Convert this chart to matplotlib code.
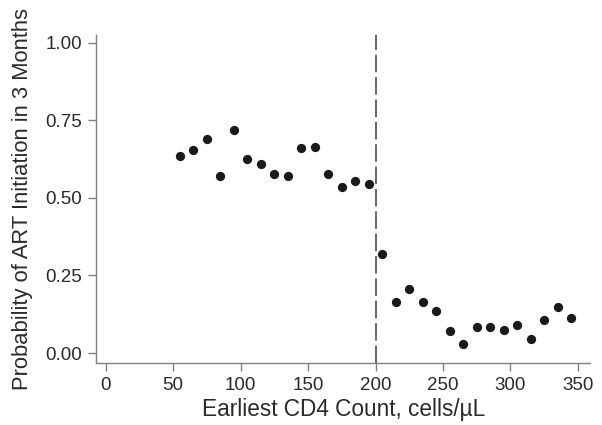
import numpy as np
import matplotlib
matplotlib.use('Agg')
from matplotlib import pyplot as plt

plt.rcParams['font.family'] = ['Liberation Sans', 'DejaVu Sans']

# binned CD4 counts (bin midpoints) and probability of ART initiation
cd4 = [55, 65, 75, 85, 95, 105, 115, 125, 135, 145, 155, 165, 175, 185, 195,
       205, 215, 225, 235, 245, 255, 265, 275, 285, 295, 305, 315, 325, 335, 345]
prob = [0.635, 0.655, 0.69, 0.57, 0.72, 0.625, 0.61, 0.578, 0.572, 0.66, 0.665,
        0.577, 0.535, 0.555, 0.545, 0.32, 0.165, 0.205, 0.165, 0.135, 0.072,
        0.03, 0.083, 0.085, 0.075, 0.09, 0.045, 0.105, 0.15, 0.113]
threshold = 200
xticks = [0, 50, 100, 150, 200, 250, 300, 350]
yticks = [0.0, 0.25, 0.5, 0.75, 1.0]

fig = plt.figure(figsize=(6.02, 4.25), dpi=100)
ax = fig.add_axes([0.16, 0.146, 0.82, 0.772])

ax.scatter(cd4, prob, s=32, color='#1a1a1a', zorder=3)
ax.axvline(threshold, color='#666666', lw=1.4, ls=(0, (9, 2.5)))

ax.set_xlim(-7, 359)
ax.set_ylim(-0.032, 1.026)
ax.set_xticks(xticks)
ax.set_yticks(yticks)
ax.set_yticklabels(['{:.2f}'.format(v) for v in yticks])

for s in ['top', 'right']:
    ax.spines[s].set_visible(False)
for s in ['left', 'bottom']:
    ax.spines[s].set_color('#808080')
    ax.spines[s].set_linewidth(1.0)
ax.tick_params(colors='#808080', labelcolor='#2a2a2a', labelsize=13.5, length=6, width=1.0, pad=4)

ax.set_xlabel('Earliest CD4 Count, cells/\u00b5L', fontsize=16.3, color='#2a2a2a', labelpad=3)
ax.set_ylabel('Probability of ART Initiation in 3 Months', fontsize=15.8, color='#2a2a2a', labelpad=9)

plt.savefig('out.png', dpi=100)
plt.close('all')
